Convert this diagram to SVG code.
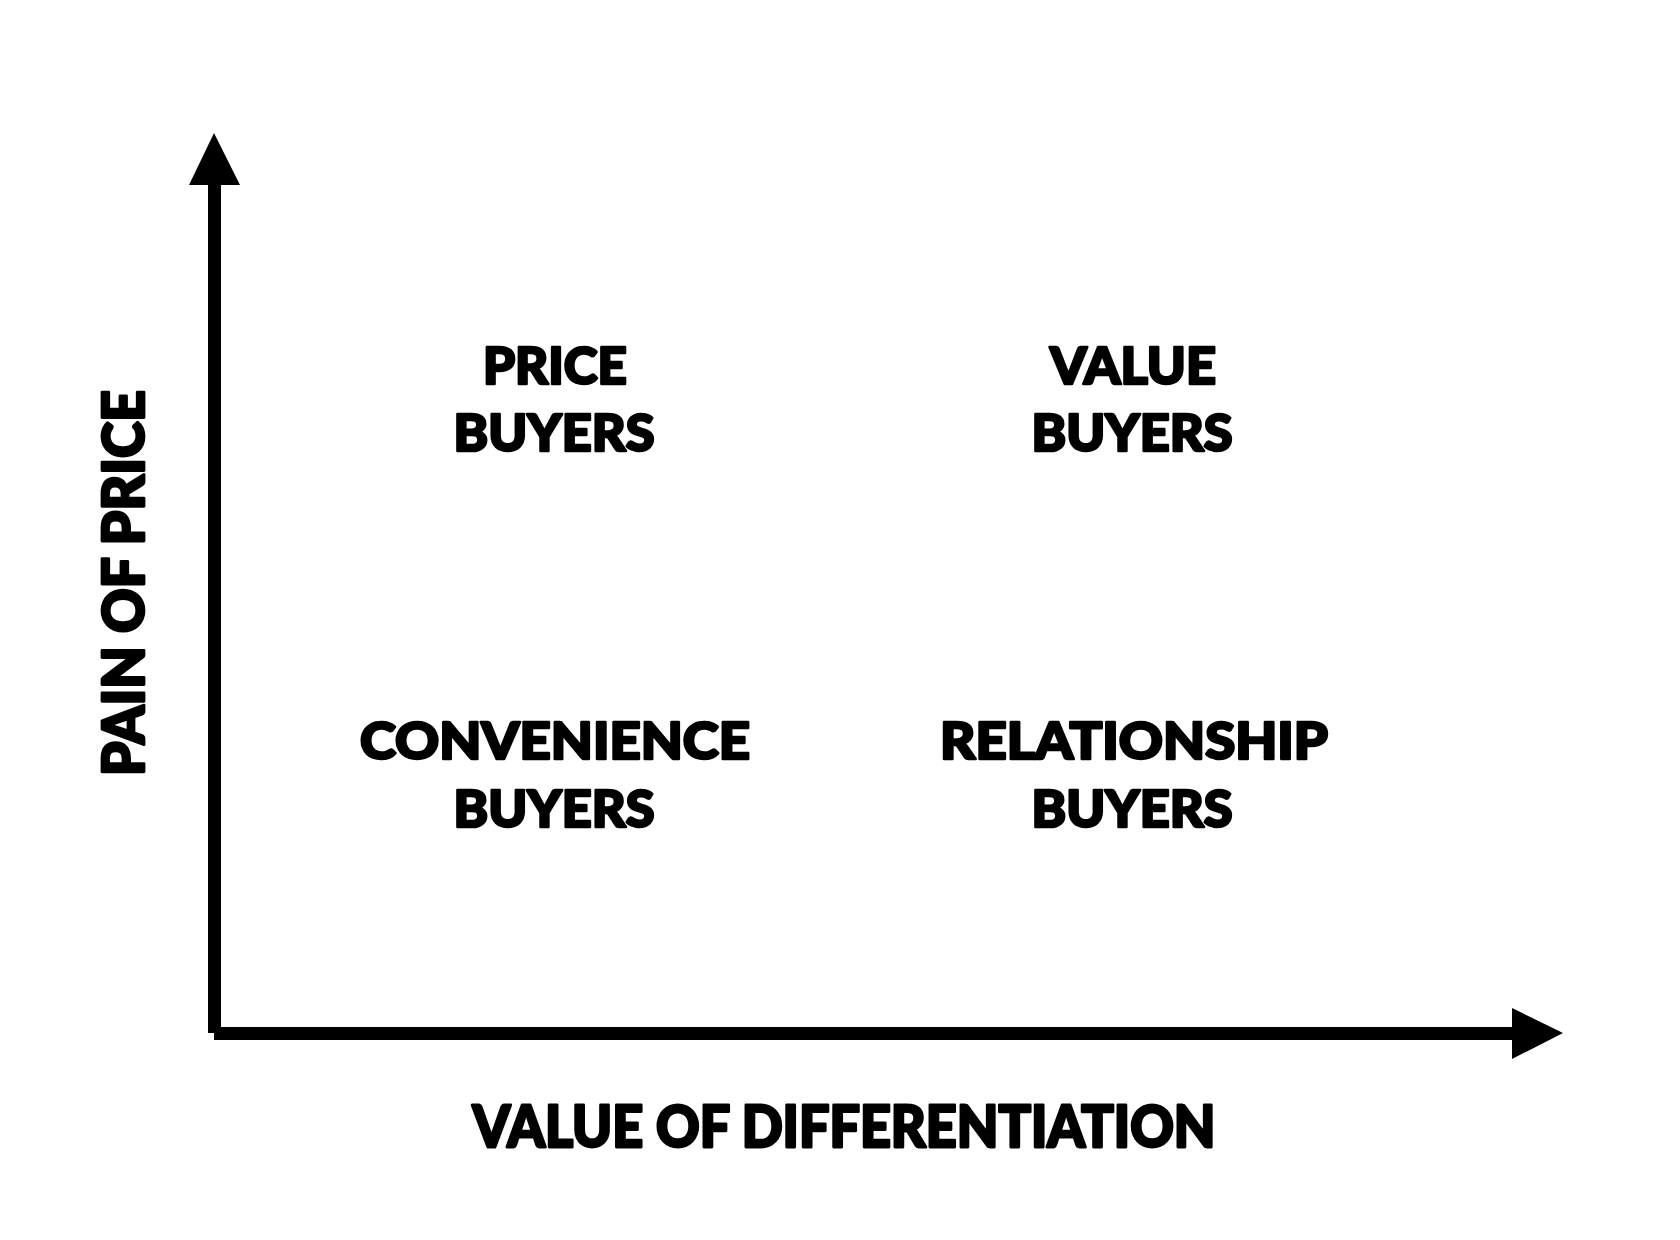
<svg xmlns="http://www.w3.org/2000/svg" width="1680" height="1240" viewBox="0 0 1680 1240">
<style>
.q{font-family:Lato,"DejaVu Sans",sans-serif;font-weight:900;font-size:52px;fill:#000;stroke:#000;stroke-width:2.6;stroke-linejoin:round;text-anchor:middle}
.ax{font-family:Lato,"DejaVu Sans",sans-serif;font-weight:900;font-size:57px;fill:#000;stroke:#000;stroke-width:2.8;stroke-linejoin:round;text-anchor:middle}
.axis{stroke:#000;stroke-width:13;fill:none}
</style>
<rect width="1680" height="1240" fill="#fff"/>
<g id="connectors">
<line class="axis" x1="214.5" y1="185" x2="214.5" y2="1033"/>
<line class="axis" x1="214" y1="1033.5" x2="1513" y2="1033.5"/>
<polygon points="214,133 189,185 240,185" fill="#000"/>
<polygon points="1563,1033 1512,1008 1512,1059" fill="#000"/>
</g>
<g id="price-buyers">
<text class="q" x="555" y="384" textLength="144" lengthAdjust="spacingAndGlyphs">PRICE</text>
<text class="q" x="554" y="451" textLength="201" lengthAdjust="spacingAndGlyphs">BUYERS</text>
</g>
<g id="value-buyers">
<text class="q" x="1133" y="384" textLength="166" lengthAdjust="spacingAndGlyphs">VALUE</text>
<text class="q" x="1132" y="451" textLength="201" lengthAdjust="spacingAndGlyphs">BUYERS</text>
</g>
<g id="convenience-buyers">
<text class="q" x="555" y="759" textLength="390" lengthAdjust="spacingAndGlyphs">CONVENIENCE</text>
<text class="q" x="554" y="827" textLength="201" lengthAdjust="spacingAndGlyphs">BUYERS</text>
</g>
<g id="relationship-buyers">
<text class="q" x="1134" y="759" textLength="388" lengthAdjust="spacingAndGlyphs">RELATIONSHIP</text>
<text class="q" x="1132" y="827" textLength="201" lengthAdjust="spacingAndGlyphs">BUYERS</text>
</g>
<g id="x-label">
<text class="ax" x="844" y="1147" textLength="743" lengthAdjust="spacingAndGlyphs">VALUE OF DIFFERENTIATION</text>
</g>
<g id="y-label">
<text class="ax" transform="translate(144,583) rotate(-90)" x="0" y="0" textLength="386" lengthAdjust="spacingAndGlyphs">PAIN OF PRICE</text>
</g>
</svg>
